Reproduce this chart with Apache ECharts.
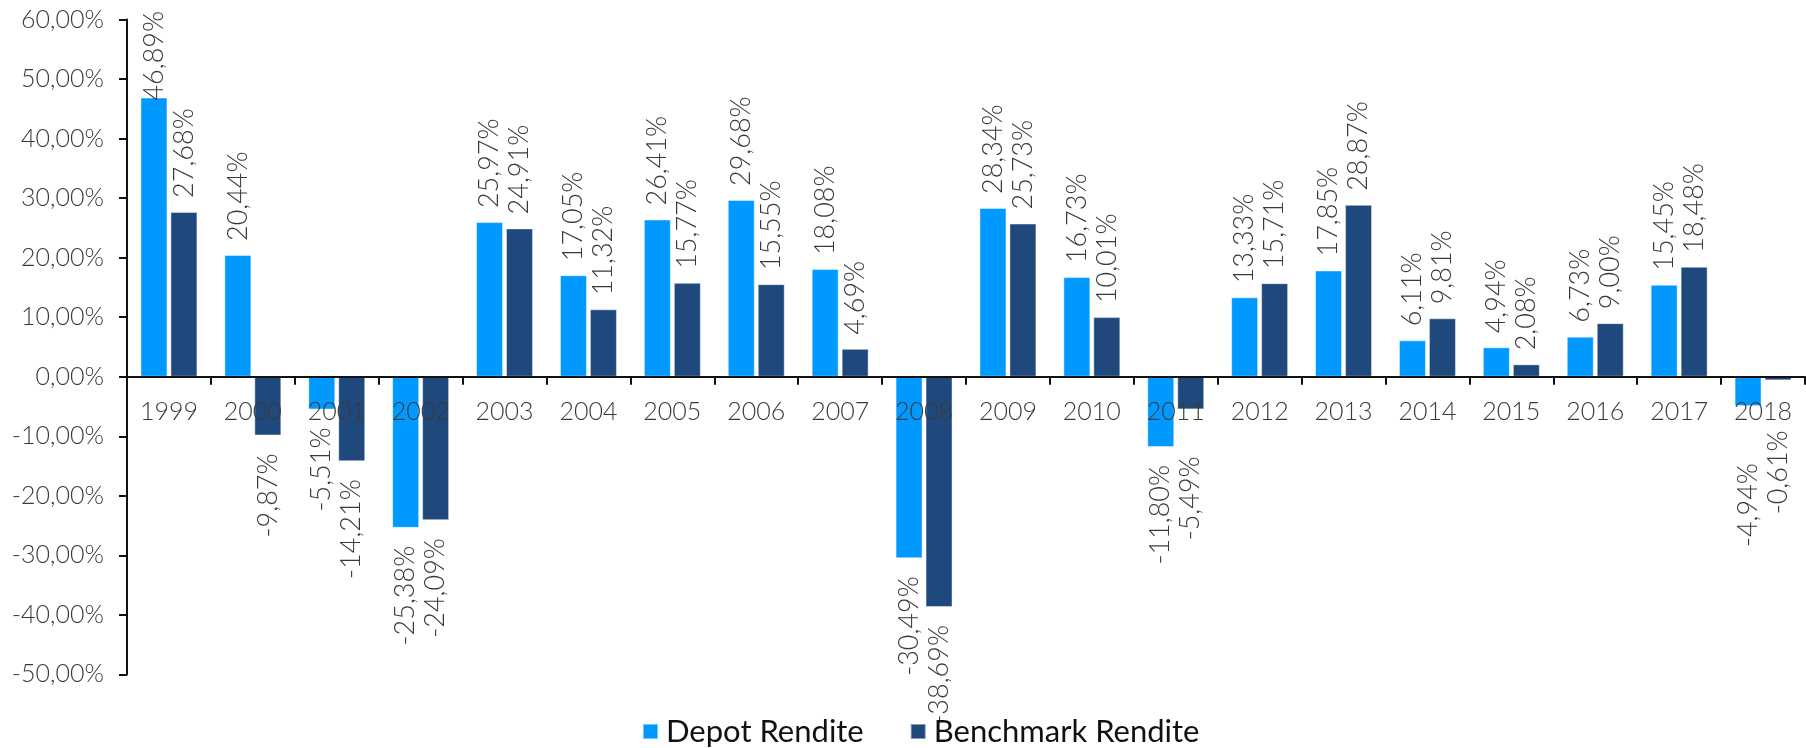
<!DOCTYPE html>
<html>
<head>
<meta charset="utf-8">
<script src="https://cdn.jsdelivr.net/npm/echarts@6/dist/echarts.min.js"></script>
<style>html,body{margin:0;padding:0;background:#fff}#c{width:1806px;height:748px}</style>
</head>
<body>
<div id="c"></div>
<script>
const years = ['1999','2000','2001','2002','2003','2004','2005','2006','2007','2008','2009','2010','2011','2012','2013','2014','2015','2016','2017','2018'];
const depotRendite = [46.89, 20.44, -5.51, -25.38, 25.97, 17.05, 26.41, 29.68, 18.08, -30.49, 28.34, 16.73, -11.80, 13.33, 17.85, 6.11, 4.94, 6.73, 15.45, -4.94];
const benchmarkRendite = [27.68, -9.87, -14.21, -24.09, 24.91, 11.32, 15.77, 15.55, 4.69, -38.69, 25.73, 10.01, -5.49, 15.71, 28.87, 9.81, 2.08, 9.00, 18.48, -0.61];
const seriesNames = ['Depot Rendite', 'Benchmark Rendite'];
const yMin = -50, yMax = 60, yStep = 10;

const FONT = 'Lato';
const fmt = v => v.toFixed(2).replace('.', ',') + '%';

const W = 1806, H = 748;
const gridTop = 19.5, gridBottom = 73.6;
const plotH = H - gridTop - gridBottom;
// move the category axis up from the grid bottom to the zero line
const zeroOffset = -plotH * (0 - yMin) / (yMax - yMin);

// label placement tweaks (styling only), keyed "seriesIndex:dataIndex"
const labelNudge = {
  '1:12': {distance: 47},
  '0:19': {distance: 65, offset: [8, 0]},
  '1:19': {distance: 61, offset: [11, 0]}
};

function items(arr, s) {
  return arr.map((v, i) => {
    const pos = v >= 0;
    const lab = {
      position: pos ? 'top' : 'bottom',
      align: pos ? 'left' : 'right',
      distance: pos ? (v > 40 ? -3 : 14) : 18
    };
    Object.assign(lab, labelNudge[s + ':' + i] || {});
    return {value: v, label: lab};
  });
}

const labelStyle = {
  show: true,
  rotate: 90,
  verticalAlign: 'middle',
  fontFamily: FONT,
  fontWeight: 300,
  fontSize: 27,
  color: '#3a3a3a',
  formatter: p => fmt(p.value)
};

const chart = echarts.init(document.getElementById('c'), null, {renderer: 'canvas'});
chart.setOption({
  animation: false,
  backgroundColor: '#ffffff',
  grid: {left: 127, right: 1, top: gridTop, bottom: gridBottom, containLabel: false},
  legend: {
    data: seriesNames,
    left: 642,
    top: 716,
    padding: 0,
    icon: 'rect',
    itemWidth: 15,
    itemHeight: 15,
    itemGap: 46,
    textStyle: {fontFamily: FONT, fontSize: 31, color: '#111', padding: [0, 0, 0, 3]}
  },
  xAxis: {
    type: 'category',
    data: years,
    z: 5,
    position: 'bottom',
    offset: zeroOffset,
    axisLine: {onZero: false, lineStyle: {color: '#111', width: 2}},
    axisTick: {show: true, length: 8, lineStyle: {color: '#111', width: 2}},
    axisLabel: {fontFamily: FONT, fontWeight: 300, fontSize: 25, color: '#3a3a3a', margin: 23, interval: 0},
    splitLine: {show: false}
  },
  yAxis: {
    type: 'value',
    min: yMin,
    max: yMax,
    interval: yStep,
    axisLine: {show: true, lineStyle: {color: '#111', width: 2}},
    axisTick: {show: true, length: 8, lineStyle: {color: '#111', width: 2}},
    axisLabel: {fontFamily: FONT, fontWeight: 300, fontSize: 25, color: '#3a3a3a', margin: 23, formatter: v => fmt(v)},
    splitLine: {show: false}
  },
  series: [
    {
      name: seriesNames[0],
      type: 'bar',
      data: items(depotRendite, 0),
      barWidth: 27,
      barGap: '11%',
      itemStyle: {color: '#0099ff', borderColor: 'rgba(255,255,255,0.45)', borderWidth: 1},
      label: labelStyle
    },
    {
      name: seriesNames[1],
      type: 'bar',
      data: items(benchmarkRendite, 1),
      barWidth: 27,
      barGap: '11%',
      itemStyle: {color: '#1f497d', borderColor: 'rgba(255,255,255,0.45)', borderWidth: 1},
      label: labelStyle
    }
  ]
});
</script>
</body>
</html>
